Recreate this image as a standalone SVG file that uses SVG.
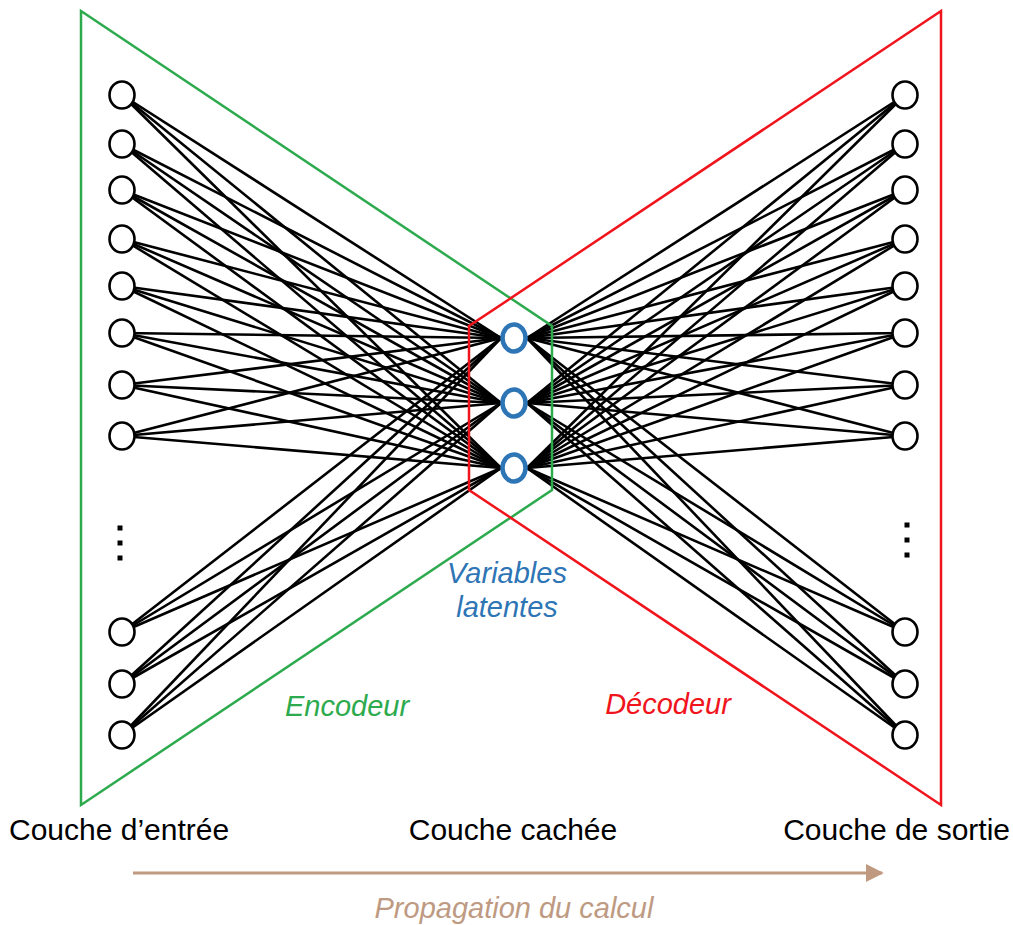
<svg xmlns="http://www.w3.org/2000/svg" width="1013" height="925" viewBox="0 0 1013 925">
<style>
.c{stroke:#000;stroke-width:2.6;fill:none}
.n{fill:#fff;stroke:#000;stroke-width:2.6}
.h{fill:#fff;stroke:#2E75B6;stroke-width:4.5}
.t{font-family:"Liberation Sans",Arial,sans-serif;font-size:30px;fill:#000}
.i{font-family:"Liberation Sans",Arial,sans-serif;font-size:29px;font-style:italic}
.d{fill:#000}
</style>
<defs>
<marker id="ah" viewBox="0 0 10 10" refX="9" refY="5" markerWidth="6" markerHeight="6" markerUnits="strokeWidth" orient="auto">
<path d="M0,0 L10,5 L0,10 Z" fill="#C09A80"/>
</marker>
</defs>
<rect width="1013" height="925" fill="#fff"/>
<g id="connectors">
<line class="c" x1="122" y1="95" x2="501" y2="338"/><line class="c" x1="122" y1="95" x2="501" y2="403"/><line class="c" x1="122" y1="95" x2="501" y2="468"/>
<line class="c" x1="122" y1="144" x2="501" y2="338"/><line class="c" x1="122" y1="144" x2="501" y2="403"/><line class="c" x1="122" y1="144" x2="501" y2="468"/>
<line class="c" x1="122" y1="190" x2="501" y2="338"/><line class="c" x1="122" y1="190" x2="501" y2="403"/><line class="c" x1="122" y1="190" x2="501" y2="468"/>
<line class="c" x1="122" y1="239" x2="501" y2="338"/><line class="c" x1="122" y1="239" x2="501" y2="403"/><line class="c" x1="122" y1="239" x2="501" y2="468"/>
<line class="c" x1="122" y1="286" x2="501" y2="338"/><line class="c" x1="122" y1="286" x2="501" y2="403"/><line class="c" x1="122" y1="286" x2="501" y2="468"/>
<line class="c" x1="122" y1="333" x2="501" y2="338"/><line class="c" x1="122" y1="333" x2="501" y2="403"/><line class="c" x1="122" y1="333" x2="501" y2="468"/>
<line class="c" x1="122" y1="385" x2="501" y2="338"/><line class="c" x1="122" y1="385" x2="501" y2="403"/><line class="c" x1="122" y1="385" x2="501" y2="468"/>
<line class="c" x1="122" y1="436" x2="501" y2="338"/><line class="c" x1="122" y1="436" x2="501" y2="403"/><line class="c" x1="122" y1="436" x2="501" y2="468"/>
<line class="c" x1="122" y1="632" x2="501" y2="338"/><line class="c" x1="122" y1="632" x2="501" y2="403"/><line class="c" x1="122" y1="632" x2="501" y2="468"/>
<line class="c" x1="122" y1="684" x2="501" y2="338"/><line class="c" x1="122" y1="684" x2="501" y2="403"/><line class="c" x1="122" y1="684" x2="501" y2="468"/>
<line class="c" x1="122" y1="735" x2="501" y2="338"/><line class="c" x1="122" y1="735" x2="501" y2="403"/><line class="c" x1="122" y1="735" x2="501" y2="468"/>
<line class="c" x1="527" y1="338" x2="905" y2="95"/><line class="c" x1="527" y1="403" x2="905" y2="95"/><line class="c" x1="527" y1="468" x2="905" y2="95"/>
<line class="c" x1="527" y1="338" x2="905" y2="144"/><line class="c" x1="527" y1="403" x2="905" y2="144"/><line class="c" x1="527" y1="468" x2="905" y2="144"/>
<line class="c" x1="527" y1="338" x2="905" y2="190"/><line class="c" x1="527" y1="403" x2="905" y2="190"/><line class="c" x1="527" y1="468" x2="905" y2="190"/>
<line class="c" x1="527" y1="338" x2="905" y2="239"/><line class="c" x1="527" y1="403" x2="905" y2="239"/><line class="c" x1="527" y1="468" x2="905" y2="239"/>
<line class="c" x1="527" y1="338" x2="905" y2="286"/><line class="c" x1="527" y1="403" x2="905" y2="286"/><line class="c" x1="527" y1="468" x2="905" y2="286"/>
<line class="c" x1="527" y1="338" x2="905" y2="333"/><line class="c" x1="527" y1="403" x2="905" y2="333"/><line class="c" x1="527" y1="468" x2="905" y2="333"/>
<line class="c" x1="527" y1="338" x2="905" y2="385"/><line class="c" x1="527" y1="403" x2="905" y2="385"/><line class="c" x1="527" y1="468" x2="905" y2="385"/>
<line class="c" x1="527" y1="338" x2="905" y2="436"/><line class="c" x1="527" y1="403" x2="905" y2="436"/><line class="c" x1="527" y1="468" x2="905" y2="436"/>
<line class="c" x1="527" y1="338" x2="905" y2="632"/><line class="c" x1="527" y1="403" x2="905" y2="632"/><line class="c" x1="527" y1="468" x2="905" y2="632"/>
<line class="c" x1="527" y1="338" x2="905" y2="684"/><line class="c" x1="527" y1="403" x2="905" y2="684"/><line class="c" x1="527" y1="468" x2="905" y2="684"/>
<line class="c" x1="527" y1="338" x2="905" y2="735"/><line class="c" x1="527" y1="403" x2="905" y2="735"/><line class="c" x1="527" y1="468" x2="905" y2="735"/>
</g>
<g id="encoder-outline"><polygon points="81,11 552,326 552,490 81,805" fill="none" stroke="#2DAA4E" stroke-width="2.5"/></g>
<g id="decoder-outline"><polygon points="941,11 469,326 469,490 941,805" fill="none" stroke="#F0141C" stroke-width="2.5"/></g>
<g id="input-layer">
<ellipse class="n" cx="122" cy="95" rx="12.5" ry="13.5"/>
<ellipse class="n" cx="122" cy="144" rx="12.5" ry="13.5"/>
<ellipse class="n" cx="122" cy="190" rx="12.5" ry="13.5"/>
<ellipse class="n" cx="122" cy="239" rx="12.5" ry="13.5"/>
<ellipse class="n" cx="122" cy="286" rx="12.5" ry="13.5"/>
<ellipse class="n" cx="122" cy="333" rx="12.5" ry="13.5"/>
<ellipse class="n" cx="122" cy="385" rx="12.5" ry="13.5"/>
<ellipse class="n" cx="122" cy="436" rx="12.5" ry="13.5"/>
<ellipse class="n" cx="122" cy="632" rx="12.5" ry="13.5"/>
<ellipse class="n" cx="122" cy="684" rx="12.5" ry="13.5"/>
<ellipse class="n" cx="122" cy="735" rx="12.5" ry="13.5"/>
<rect class="d" x="117.5" y="525.5" width="5" height="5"/>
<rect class="d" x="117.5" y="540.5" width="5" height="5"/>
<rect class="d" x="117.5" y="555.5" width="5" height="5"/>
<text class="t" x="9" y="840">Couche d’entrée</text>
</g>
<g id="hidden-layer">
<ellipse class="h" cx="514" cy="338" rx="11.5" ry="13.5"/>
<ellipse class="h" cx="514" cy="403" rx="11.5" ry="13.5"/>
<ellipse class="h" cx="514" cy="468" rx="11.5" ry="13.5"/>
<text class="t" x="513" y="840" text-anchor="middle">Couche cachée</text>
<text class="i" x="507" y="583" text-anchor="middle" fill="#2E75B6">Variables</text>
<text class="i" x="507" y="617" text-anchor="middle" fill="#2E75B6">latentes</text>
</g>
<g id="output-layer">
<ellipse class="n" cx="905" cy="95" rx="12.5" ry="13.5"/>
<ellipse class="n" cx="905" cy="144" rx="12.5" ry="13.5"/>
<ellipse class="n" cx="905" cy="190" rx="12.5" ry="13.5"/>
<ellipse class="n" cx="905" cy="239" rx="12.5" ry="13.5"/>
<ellipse class="n" cx="905" cy="286" rx="12.5" ry="13.5"/>
<ellipse class="n" cx="905" cy="333" rx="12.5" ry="13.5"/>
<ellipse class="n" cx="905" cy="385" rx="12.5" ry="13.5"/>
<ellipse class="n" cx="905" cy="436" rx="12.5" ry="13.5"/>
<ellipse class="n" cx="905" cy="632" rx="12.5" ry="13.5"/>
<ellipse class="n" cx="905" cy="684" rx="12.5" ry="13.5"/>
<ellipse class="n" cx="905" cy="735" rx="12.5" ry="13.5"/>
<rect class="d" x="904.5" y="522.5" width="5" height="5"/>
<rect class="d" x="904.5" y="537.5" width="5" height="5"/>
<rect class="d" x="904.5" y="552.5" width="5" height="5"/>
<text class="t" x="1010" y="840" text-anchor="end">Couche de sortie</text>
</g>
<g id="labels">
<text class="i" x="347" y="716" text-anchor="middle" fill="#2DAA4E">Encodeur</text>
<text class="i" x="668" y="714" text-anchor="middle" fill="#F0141C">Décodeur</text>
</g>
<g id="propagation">
<line x1="133" y1="873" x2="882" y2="873" stroke="#C09A80" stroke-width="3" marker-end="url(#ah)"/>
<text class="i" x="514" y="918" text-anchor="middle" fill="#BE9A82">Propagation du calcul</text>
</g>
</svg>
